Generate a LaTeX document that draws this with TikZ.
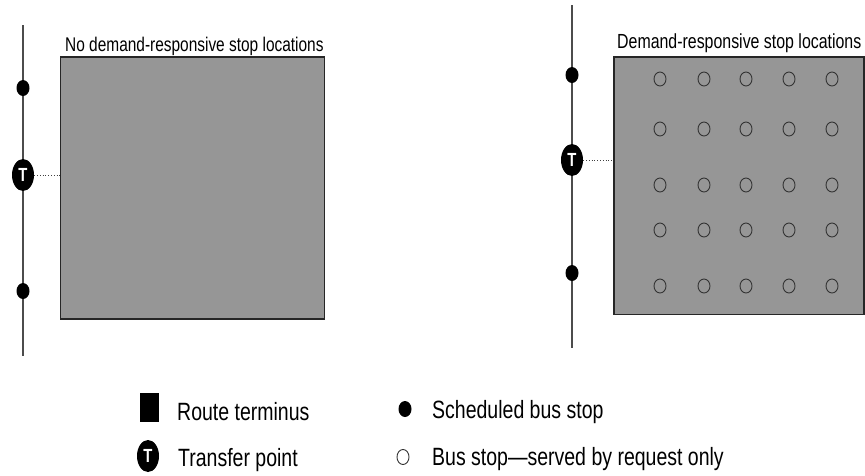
\documentclass[tikz,border=0pt]{standalone}
\usepackage{fontspec}
\setmainfont{Liberation Sans}[FakeStretch=0.78]
\usetikzlibrary{shapes.geometric}
\definecolor{zonegray}{RGB}{150,150,150}
\begin{document}
\begin{tikzpicture}[x=1pt,y=-1pt,
  route/.style={draw=black!70, line width=1.2pt},
  sstop/.style={ellipse, fill=black, minimum width=13pt, minimum height=16pt, inner sep=0pt},
  tpoint/.style={ellipse, fill=black, minimum width=22pt, minimum height=32pt, inner sep=0pt,
                 text=white, font=\fontsize{19}{19}\selectfont\bfseries},
  zone/.style={rectangle, draw=black!85, line width=1.3pt, fill=zonegray, inner sep=0pt},
  rstop/.style={ellipse, draw=black!80, line width=0.9pt, minimum width=12pt, minimum height=14pt, inner sep=0pt},
  link/.style={dotted, draw=black!75, line width=0.8pt},
  ztitle/.style={anchor=base west, inner sep=0pt},
  legtext/.style={anchor=base west, inner sep=0pt, font=\fontsize{25}{27}\selectfont}]
\useasboundingbox (0,0) rectangle (865,475);

% ---------- left panel ----------
\coordinate (Ltop) at (23,25);
\coordinate (Lbot) at (23,356);
\draw[route] (Ltop) -- (Lbot);
\node[zone, minimum width=264pt, minimum height=262pt] (zoneL) at (192.5,188) {};
\node[ztitle, font=\fontsize{19.8}{21}\selectfont] (titleL) at (65,51) {No demand-responsive stop locations};
\node[sstop] (sL1) at (23,88) {};
\node[sstop] (sL2) at (23,291) {};
\node[tpoint] (tL) at (23,175) {T};
\draw[link] (tL.east) -- (zoneL.west |- tL.east);

% ---------- right panel ----------
\coordinate (Rtop) at (572,5);
\coordinate (Rbot) at (572,348);
\draw[route] (Rtop) -- (Rbot);
\node[zone, minimum width=250pt, minimum height=257.5pt] (zoneR) at (739,185.75) {};
\node[ztitle, font=\fontsize{20.4}{22}\selectfont] (titleR) at (617,48) {Demand-responsive stop locations};
\node[sstop] (sR1) at (572,75) {};
\node[sstop] (sR2) at (572,273) {};
\node[tpoint] (tR) at (572,160) {T};
\draw[link] (tR.east) -- (zoneR.west |- tR.east);
\foreach \y [count=\j] in {79,129,185,230,286}{
  \foreach \x [count=\i] in {660,704,746,789,832}{
    \node[rstop] (r-\j-\i) at (\x,\y) {};
  }
}

% ---------- legend ----------
\node[fill=black, minimum width=19pt, minimum height=29pt, inner sep=0pt] (legTerm) at (149,407.5) {};
\node[legtext] (legTermTxt) at (177,420) {Route terminus};
\node[tpoint] (legT) at (148,456) {T};
\node[legtext] (legTTxt) at (178,466) {Transfer point};
\node[sstop] (legS) at (405,409) {};
\node[legtext] (legSTxt) at (432,418) {Scheduled bus stop};
\node[rstop, minimum height=15pt] (legR) at (403,457) {};
\node[legtext] (legRTxt) at (432,465) {Bus stop—served by request only};
\end{tikzpicture}
\end{document}
